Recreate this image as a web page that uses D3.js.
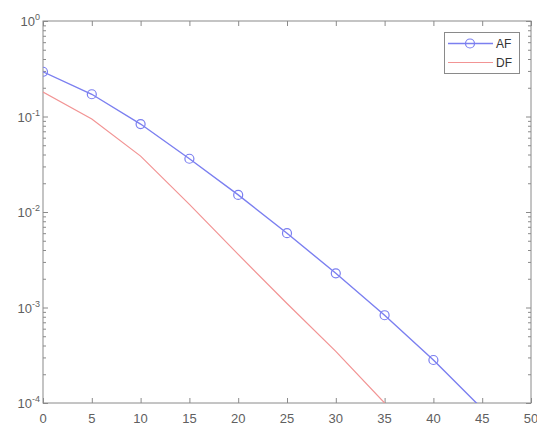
<!DOCTYPE html>
<html><head><meta charset="utf-8">
<script src="https://cdn.jsdelivr.net/npm/d3@7"></script>
<style>body{margin:0;background:#fff}svg{display:block}</style>
</head><body>
<script>
const xValues = [0,5,10,15,20,25,30,35,40,45];
const afValues = [0.294,0.171,0.0834,0.0361,0.0151,0.0060,0.00228,0.00083,0.000282,0.000087];
const dfXValues = [0,5,10,15,20,25,30,35];
const dfValues = [0.180,0.094,0.0385,0.0120,0.0036,0.00110,0.000347,0.000100];
const xTicks = [0,5,10,15,20,25,30,35,40,45,50];
const yTickExps = [0,-1,-2,-3,-4];
const seriesNames = ["AF","DF"];

const W=537,H=425;
const m={l:43,r:6,t:21,b:22};
const svg=d3.select("body").append("svg").attr("width",W).attr("height",H);
const x=d3.scaleLinear().domain([0,50]).range([m.l,W-m.r]);
const y=d3.scaleLog().domain([1e-4,1]).range([H-m.b,m.t]);
const axisCol="#8a8a8a", textCol="#606060";
const afCol="#7b7ff0", dfCol="#f29494";
const font="Liberation Sans, Arial, sans-serif";

svg.append("defs").append("clipPath").attr("id","clip").append("rect")
  .attr("x",x(0)).attr("y",y(1)).attr("width",x(50)-x(0)).attr("height",y(1e-4)-y(1));

svg.append("rect").attr("x",x(0)).attr("y",y(1)).attr("width",x(50)-x(0)).attr("height",y(1e-4)-y(1))
  .attr("fill","none").attr("stroke",axisCol).attr("stroke-width",1);

const minor=[];
for(let e=-4;e<0;e++)for(let k=2;k<=9;k++)minor.push(k*Math.pow(10,e));
const majorY=yTickExps.map(e=>Math.pow(10,e));
function styleAx(g){g.select(".domain").remove();g.selectAll("line").attr("stroke",axisCol);}
svg.append("g").attr("transform",`translate(${x(0)},0)`).call(d3.axisRight(y).tickValues(majorY).tickSize(5).tickFormat("")).call(styleAx);
svg.append("g").attr("transform",`translate(${x(0)},0)`).call(d3.axisRight(y).tickValues(minor).tickSize(3).tickFormat("")).call(styleAx);
svg.append("g").attr("transform",`translate(${x(50)},0)`).call(d3.axisLeft(y).tickValues(majorY).tickSize(5).tickFormat("")).call(styleAx);
svg.append("g").attr("transform",`translate(${x(50)},0)`).call(d3.axisLeft(y).tickValues(minor).tickSize(3).tickFormat("")).call(styleAx);
svg.append("g").attr("transform",`translate(0,${y(1e-4)})`).call(d3.axisTop(x).tickValues(xTicks).tickSize(5).tickFormat("")).call(styleAx);
svg.append("g").attr("transform",`translate(0,${y(1)})`).call(d3.axisBottom(x).tickValues(xTicks).tickSize(5).tickFormat("")).call(styleAx);

svg.append("g").selectAll("text").data(xTicks).join("text")
  .attr("x",d=>x(d)).attr("y",y(1e-4)+20).attr("text-anchor","middle")
  .attr("font-family",font).attr("font-size",13).attr("fill",textCol).text(d=>d);
const yl=svg.append("g").selectAll("text").data(yTickExps).join("text")
  .attr("y",d=>y(Math.pow(10,d))+5)
  .attr("font-family",font).attr("font-size",13).attr("fill",textCol);
yl.append("tspan").text("10");
yl.append("tspan").attr("dy",-6).attr("font-size",9).text(d=>d===0?"0":"-"+(-d));
yl.each(function(){const w=this.getComputedTextLength();d3.select(this).attr("x",x(0)-3-w);});

const plot=svg.append("g").attr("clip-path","url(#clip)");
const line=d3.line().x(d=>x(d[0])).y(d=>y(d[1]));
plot.append("path").datum(dfXValues.map((v,i)=>[v,dfValues[i]])).attr("d",line)
  .attr("fill","none").attr("stroke",dfCol).attr("stroke-width",1.2);
const afData=xValues.map((v,i)=>[v,afValues[i]]);
plot.append("path").datum(afData).attr("d",line).attr("fill","none").attr("stroke",afCol).attr("stroke-width",1.4);
plot.selectAll("circle").data(afData.filter(d=>d[1]>=1e-4)).join("circle")
  .attr("cx",d=>x(d[0])).attr("cy",d=>y(d[1])).attr("r",4.5)
  .attr("fill","none").attr("stroke",afCol).attr("stroke-width",1.2);

const lg=svg.append("g");
lg.append("rect").attr("x",444.5).attr("y",32.5).attr("width",75).attr("height",41)
  .attr("fill","#fff").attr("stroke",axisCol).attr("stroke-width",1);
const ly=[43.5,62.5];
const cols=[afCol,dfCol];
seriesNames.forEach((n,i)=>{
  lg.append("line").attr("x1",448).attr("x2",493).attr("y1",ly[i]).attr("y2",ly[i]).attr("stroke",cols[i]).attr("stroke-width",i?1.2:1.4);
  if(i===0)lg.append("circle").attr("cx",470).attr("cy",ly[i]).attr("r",4.5).attr("fill","none").attr("stroke",afCol).attr("stroke-width",1.2);
  lg.append("text").attr("x",496).attr("y",ly[i]+4.5).attr("font-family",font)
    .attr("font-size",12).attr("fill","#333").text(n);
});
</script>
</body></html>
